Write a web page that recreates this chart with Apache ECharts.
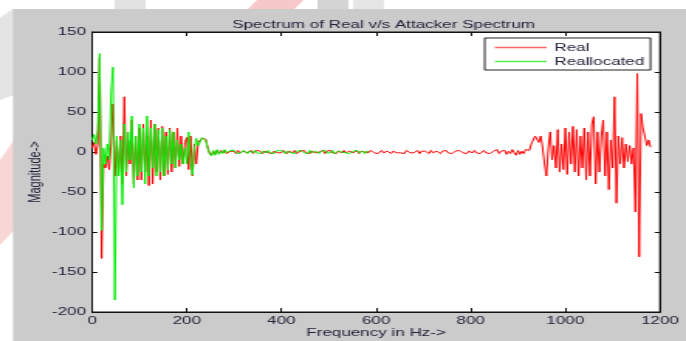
<!DOCTYPE html>
<html>
<head>
<meta charset="utf-8">
<title>Spectrum of Real v/s Attacker Spectrum</title>
<script src="https://cdn.jsdelivr.net/npm/echarts@6/dist/echarts.min.js"></script>
<style>
  html, body { margin: 0; padding: 0; background: #fff; overflow: hidden; }
  /* the source figure is stretched sideways, so the chart is drawn narrow and scaled out */
  #main { width: 443px; height: 341px; transform: scaleX(1.5485); transform-origin: 0 0; }
</style>
</head>
<body>
<div id="main"></div>
<script>
// frequency step between samples (Hz)
var freqStep = 4;

// Real spectrum, 0 .. 1180 Hz
var realMag = [
  5, 12, -3, 10, 118, -133, -15, -20, -5, -22, 10, 60, -30, 15, -25, 20, -40, 69, -30, 15, -15, 40, -40, 20, -35,
  30, -35, 35, -25, 20, -42, 40, -40, 35, -25, 30, -35, 32, -30, 25, -28, 30, -25, 25, -20, 30, -18, 20, -15, 12,
  18, -22, 20, -30, 10, -15, 12, 10, 17, 19, 16, 6, -1, -4, 1, -3, 2, -2, 2, -1, 2, -2, -2, 1, 1,
  1, -2, 2, -1, -3, 1, 2, -1, 0, 2, -2, 1, -1, 2, 0, -2, 1, 2, -1, 0, -2, 1, 2, -1, 1,
  -1, 2, 0, -2, 1, 1, -1, 2, -2, 0, 1, -1, 2, -1, 0, -2, 1, 2, -1, 1, 0, -1, 2, -2, 1,
  0, 2, -1, 1, -2, 1, 0, -1, 2, -1, -2, 1, 1, -1, 0, 2, -2, 1, -1, 0, 1, -1, 2, 0, -1,
  1, -2, 0, 2, -1, -1, 1, 0, -2, 1, 2, -1, 0, -1, 1, -2, 2, 0, -1, 1, -1, 0, 2, -2, 1,
  -1, 1, 0, -2, 2, -1, 0, 1, -1, -2, 1, 0, 2, -1, 1, -2, 0, 1, -1, 2, 0, -1, 1, -2, 1,
  0, -1, 2, -1, 1, -2, 0, 2, -1, 1, -2, 0, 1, -1, 3, -2, 1, -1, 2, -3, 1, -2, 3, -1, -4,
  2, -3, 1, -2, 3, 4, 2, 10, 15, 20, 18, 12, 20, 5, -15, -30, 5, 25, -10, 8, -20, 28, -25, 10, -22,
  30, -28, 25, -15, 32, -25, 28, -30, 20, -20, 30, -35, 25, -30, 35, 44, -40, 25, -25, 20, 40, -30, 25, -47, 15,
  -20, 69, -64, 20, -15, 18, -20, 10, -12, 8, -15, 5, -75, 98, -131, 48, 30, 20, 8, 15, 6
];

// Reallocated spectrum, 0 .. 584 Hz
var reallocMag = [
  15, 22, 10, 28, 123, -98, 5, -15, 10, -10, 75, 106, -185, 20, -30, 15, -66, 35, -25, 25, -10, 45, -45, 20, -30,
  35, -25, 30, -40, 45, -30, 30, -20, 35, -30, 28, -25, 30, -30, 20, -22, 28, -15, 25, -20, 15, -10, 10, -15, 5,
  -15, 25, -10, -29, 5, 17, 8, 12, 18, 20, 15, 5, -2, -5, 2, -4, 3, -3, 1, -2, 3, -1, -3, 2, 0,
  2, -1, 1, -2, -1, 2, 1, -2, 1, 0, -1, 2, -1, 1, -2, 1, 0, -1, 2, -1, 1, -2, 1, 0, 2,
  0, 1, -2, 1, 2, -1, 0, -2, 1, -1, 2, 0, -1, 1, -2, 2, -1, 0, 1, -1, -2, 1, 0, 2, -1,
  1, -1, 2, -2, 0, 1, -1, 0, 2, -1, 1, -2, 0, 1, -1, 2, -1, 0, 1, -2, 1, 0
];

var xTicks = [0, 200, 400, 600, 800, 1000, 1200];
var yTicks = [-200, -150, -100, -50, 0, 50, 100, 150];

var ink = '#22223a';
var font = 'Liberation Sans';

function toPairs(arr) {
  return arr.map(function (v, i) { return [i * freqStep, v]; });
}

function plain(v) { return String(v); }

var myChart = echarts.init(document.getElementById('main'));
var option = {
  animation: false,
  backgroundColor: '#fff',
  graphic: [
    // faint watermark bits around the figure
    { type: 'polygon', z: -30, shape: { points: [[0, 18], [9, 8], [9, 95], [0, 100]] }, style: { fill: '#e4e4e4' } },
    { type: 'polygon', z: -30, shape: { points: [[0, 160], [9, 140], [9, 230], [0, 245]] }, style: { fill: '#f9d6d6' } },
    { type: 'rect', z: -30, shape: { x: 74, y: 0, width: 20, height: 9 }, style: { fill: '#e2e2e2' } },
    { type: 'polygon', z: -30, shape: { points: [[160, 9], [166, 0], [196, 0], [190, 9]] }, style: { fill: '#f6c8c8' } },
    { type: 'rect', z: -30, shape: { x: 205, y: 0, width: 20, height: 9 }, style: { fill: '#d4d4d4' } },
    { type: 'rect', z: -30, shape: { x: 228, y: 0, width: 20, height: 9 }, style: { fill: '#e6e6e6' } },
    // grey figure background
    { type: 'rect', z: -20, shape: { x: 8.4, y: 9, width: 440, height: 340 }, style: { fill: '#cbcbcb' } }
  ],
  title: {
    text: 'Spectrum of Real v/s Attacker Spectrum',
    left: 242.7,
    textAlign: 'center',
    top: 14,
    textStyle: { fontFamily: font, fontSize: 11, fontWeight: 'normal', color: ink }
  },
  legend: {
    data: ['Real', 'Reallocated'],
    orient: 'vertical',
    left: 313,
    top: 38,
    padding: [4, 4, 3, 6.5],
    itemGap: 3,
    itemWidth: 33.5,
    itemHeight: 1.5,
    icon: 'rect',
    backgroundColor: '#fff',
    borderColor: '#222',
    borderWidth: 1,
    textStyle: { fontFamily: font, fontSize: 11, color: ink }
  },
  grid: {
    left: 59.5,
    right: 16.8,
    top: 32,
    bottom: 29,
    outerBoundsMode: 'none',
    containLabel: false,
    show: true,
    backgroundColor: '#fff',
    borderColor: '#111',
    borderWidth: 1
  },
  xAxis: [{
    type: 'value',
    min: xTicks[0],
    max: xTicks[xTicks.length - 1],
    interval: 200,
    name: 'Frequency in Hz->',
    nameLocation: 'middle',
    nameGap: 15,
    nameMoveOverlap: false,
    nameTextStyle: { fontFamily: font, fontSize: 11, color: ink },
    axisLine: { onZero: false, lineStyle: { color: '#111' } },
    axisTick: { inside: true, length: 4, lineStyle: { color: '#111' } },
    axisLabel: { margin: 3, fontFamily: font, fontSize: 11, color: ink, formatter: plain },
    splitLine: { show: false }
  }, {
    type: 'value',
    position: 'top',
    min: xTicks[0],
    max: xTicks[xTicks.length - 1],
    interval: 200,
    axisLine: { onZero: false, lineStyle: { color: '#111' } },
    axisTick: { inside: true, length: 4, lineStyle: { color: '#111' } },
    axisLabel: { show: false },
    splitLine: { show: false }
  }],
  yAxis: [{
    type: 'value',
    min: yTicks[0],
    max: yTicks[yTicks.length - 1],
    interval: 50,
    name: 'Magnitude->',
    nameLocation: 'middle',
    nameGap: 31,
    nameMoveOverlap: false,
    nameTextStyle: { fontFamily: font, fontSize: 11, color: ink },
    axisLine: { show: true, onZero: false, lineStyle: { color: '#111' } },
    axisTick: { show: true, inside: true, length: 3.4, lineStyle: { color: '#111' } },
    axisLabel: { margin: 4, fontFamily: font, fontSize: 11, color: ink, formatter: plain },
    splitLine: { show: false }
  }, {
    type: 'value',
    position: 'right',
    min: yTicks[0],
    max: yTicks[yTicks.length - 1],
    interval: 50,
    axisLine: { show: true, onZero: false, lineStyle: { color: '#111' } },
    axisTick: { show: true, inside: true, length: 3.4, lineStyle: { color: '#111' } },
    axisLabel: { show: false },
    splitLine: { show: false }
  }],
  series: [
    {
      name: 'Real',
      type: 'line',
      data: toPairs(realMag),
      showSymbol: false,
      symbol: 'none',
      color: '#ff0000',
      lineStyle: { width: 1, color: '#ff0000' },
      itemStyle: { color: '#ff6666' }
    },
    {
      name: 'Reallocated',
      type: 'line',
      data: toPairs(reallocMag),
      showSymbol: false,
      symbol: 'none',
      color: '#00ff00',
      lineStyle: { width: 1, color: '#00ee00' },
      itemStyle: { color: '#55ee55' }
    }
  ]
};
myChart.setOption(option);
</script>
</body>
</html>
